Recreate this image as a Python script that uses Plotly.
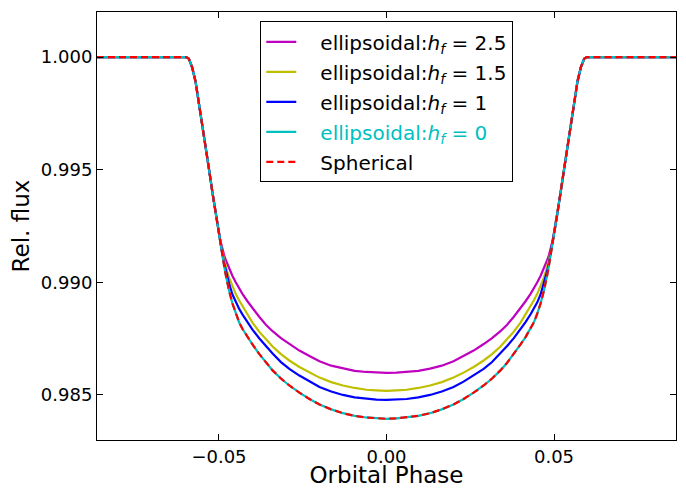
import plotly.graph_objects as go

# orbital phase grid (left half, center, right half)
phase_left = [-0.0864, -0.0598, -0.059, -0.058, -0.057, -0.056, -0.055, -0.054, -0.053, -0.052,
              -0.051, -0.050, -0.0495, -0.049, -0.0485, -0.048, -0.0475, -0.047, -0.046, -0.045,
              -0.044, -0.043, -0.0415, -0.040, -0.038, -0.036, -0.034, -0.0315, -0.029, -0.026,
              -0.023, -0.020, -0.0165, -0.013, -0.0095, -0.006, -0.003, 0.0]
phase_right = [0.003, 0.006, 0.0095, 0.013, 0.0165, 0.020, 0.023, 0.026, 0.029, 0.0315,
               0.034, 0.036, 0.038, 0.040, 0.0415, 0.043, 0.044, 0.045, 0.046, 0.047,
               0.0475, 0.048, 0.0485, 0.049, 0.0495, 0.050, 0.051, 0.052, 0.053, 0.054,
               0.055, 0.056, 0.057, 0.058, 0.059, 0.0598, 0.0864]

# shared ingress / egress flux (identical for all models)
ingress_flux = [1.0, 1.0, 0.99993, 0.99954, 0.99892, 0.99799, 0.99701, 0.99603, 0.99505, 0.99404, 0.99305]
egress_flux = [0.99305, 0.99404, 0.99505, 0.99603, 0.99701, 0.99799, 0.99892, 0.99954, 0.99993, 1.0, 1.0]

# in-transit flux, phase -0.050 ... 0.0 (left) and 0.003 ... 0.050 (right)
bottom_hf25_left = [0.99221, 0.99181, 0.99148, 0.99122, 0.99100, 0.99080, 0.99062, 0.99029, 0.99000, 0.98973,
                    0.98949, 0.98916, 0.98885, 0.98847, 0.98812, 0.98783, 0.98752, 0.98726, 0.98697, 0.98673,
                    0.98650, 0.98630, 0.98617, 0.98607, 0.98602, 0.98599, 0.98598]
bottom_hf25_right = [0.98599, 0.98602, 0.98607, 0.98617, 0.98630, 0.98650, 0.98673, 0.98697, 0.98726, 0.98752,
                     0.98783, 0.98812, 0.98847, 0.98885, 0.98916, 0.98949, 0.98973, 0.99000, 0.99029, 0.99062,
                     0.99080, 0.99100, 0.99122, 0.99148, 0.99181, 0.99221]

bottom_hf15_left = [0.99217, 0.99173, 0.99133, 0.99100, 0.99071, 0.99044, 0.99022, 0.98982, 0.98949, 0.98920,
                    0.98894, 0.98856, 0.98821, 0.98781, 0.98746, 0.98715, 0.98681, 0.98653, 0.98624, 0.98599,
                    0.98577, 0.98557, 0.98542, 0.98531, 0.98523, 0.98520, 0.98518]
bottom_hf15_right = [0.98520, 0.98523, 0.98531, 0.98542, 0.98557, 0.98577, 0.98599, 0.98624, 0.98653, 0.98681,
                     0.98715, 0.98746, 0.98781, 0.98821, 0.98856, 0.98894, 0.98920, 0.98949, 0.98982, 0.99022,
                     0.99044, 0.99071, 0.99100, 0.99133, 0.99173, 0.99217]

bottom_hf1_left = [0.99217, 0.99170, 0.99126, 0.99088, 0.99053, 0.99022, 0.98996, 0.98947, 0.98911, 0.98883,
                   0.98858, 0.98823, 0.98790, 0.98752, 0.98717, 0.98684, 0.98646, 0.98616, 0.98586, 0.98559,
                   0.98535, 0.98515, 0.98500, 0.98489, 0.98482, 0.98479, 0.98478]
bottom_hf1_right = [0.98479, 0.98482, 0.98489, 0.98500, 0.98515, 0.98535, 0.98559, 0.98586, 0.98616, 0.98646,
                    0.98684, 0.98717, 0.98752, 0.98790, 0.98823, 0.98858, 0.98883, 0.98911, 0.98947, 0.98996,
                    0.99022, 0.99053, 0.99088, 0.99126, 0.99170, 0.99217]

bottom_hf0_left = [0.99217, 0.99168, 0.99119, 0.99077, 0.99035, 0.98996, 0.98964, 0.98907, 0.98861, 0.98823,
                   0.98794, 0.98757, 0.98724, 0.98682, 0.98643, 0.98609, 0.98573, 0.98542, 0.98510, 0.98482,
                   0.98458, 0.98436, 0.98419, 0.98407, 0.98400, 0.98396, 0.98394]
bottom_hf0_right = [0.98396, 0.98400, 0.98407, 0.98419, 0.98436, 0.98458, 0.98482, 0.98510, 0.98542, 0.98573,
                    0.98609, 0.98643, 0.98682, 0.98724, 0.98757, 0.98794, 0.98823, 0.98861, 0.98907, 0.98964,
                    0.98996, 0.99035, 0.99077, 0.99119, 0.99168, 0.99217]

bottom_sph_left = [0.99217, 0.99168, 0.99119, 0.99077, 0.99035, 0.98996, 0.98964, 0.98907, 0.98861, 0.98823,
                   0.98794, 0.98757, 0.98724, 0.98682, 0.98643, 0.98609, 0.98573, 0.98542, 0.98510, 0.98482,
                   0.98458, 0.98436, 0.98419, 0.98407, 0.98400, 0.98396, 0.98394]
bottom_sph_right = [0.98396, 0.98400, 0.98407, 0.98419, 0.98436, 0.98458, 0.98482, 0.98510, 0.98542, 0.98573,
                    0.98609, 0.98643, 0.98682, 0.98724, 0.98757, 0.98794, 0.98823, 0.98861, 0.98907, 0.98964,
                    0.98996, 0.99035, 0.99077, 0.99119, 0.99168, 0.99217]

phase = phase_left + phase_right
flux_hf25 = ingress_flux + bottom_hf25_left + bottom_hf25_right + egress_flux
flux_hf15 = ingress_flux + bottom_hf15_left + bottom_hf15_right + egress_flux
flux_hf1 = ingress_flux + bottom_hf1_left + bottom_hf1_right + egress_flux
flux_hf0 = ingress_flux + bottom_hf0_left + bottom_hf0_right + egress_flux
flux_spherical = ingress_flux + bottom_sph_left + bottom_sph_right + egress_flux

pad = "\u00a0\u00a0\u00a0"
series_names = [
    pad + "ellipsoidal:<i>h</i><sub><i>f</i></sub> = 2.5",
    pad + "ellipsoidal:<i>h</i><sub><i>f</i></sub> = 1.5",
    pad + "ellipsoidal:<i>h</i><sub><i>f</i></sub> = 1",
    pad + "<span style='color:#00bfbf'>ellipsoidal:<i>h</i><sub><i>f</i></sub> = 0</span>",
    pad + "Spherical",
]
series_values = [flux_hf25, flux_hf15, flux_hf1, flux_hf0, flux_spherical]
series_colors = ["#bf00bf", "#bfbf00", "#0000ff", "#00bfbf", "#ff0000"]
series_dash = ["solid", "solid", "solid", "solid", "7px,4px"]

x_ticks = [-0.05, 0.0, 0.05]
y_ticks = [0.985, 0.990, 0.995, 1.000]

fig = go.Figure()
for i, (name, vals, col, dsh) in enumerate(zip(series_names, series_values, series_colors, series_dash)):
    fig.add_trace(go.Scatter(
        x=phase, y=vals, mode="lines", name=name, legendgroup=f"g{i}",
        line=dict(color=col, width=2.2, dash=dsh),
    ))

font_family = "DejaVu Sans"
axis_common = dict(
    showline=True, linecolor="black", linewidth=1, mirror="ticks",
    ticks="inside", ticklen=6, tickcolor="black", tickwidth=1,
    showgrid=False, zeroline=False, automargin=False,
    tickfont=dict(family=font_family, size=18, color="black"),
)

fig.update_layout(
    width=686, height=488,
    margin=dict(l=97, r=10, t=12, b=48),
    paper_bgcolor="white", plot_bgcolor="white",
    font=dict(family=font_family, color="black"),
    xaxis=dict(range=[-0.0864, 0.0864], tickvals=x_ticks, tickformat=".2f",
               title=dict(text="Orbital Phase", font=dict(size=23, family=font_family), standoff=7),
               **axis_common),
    yaxis=dict(range=[0.983, 1.002], tickvals=y_ticks, tickformat=".3f",
               title=dict(text="Rel. flux", font=dict(size=23, family=font_family), standoff=4),
               **axis_common),
    legend=dict(x=0.282, y=0.978, xanchor="left", yanchor="top",
                bordercolor="black", borderwidth=1, bgcolor="white",
                font=dict(size=20, family=font_family, color="black"),
                itemwidth=30, tracegroupgap=1),
    showlegend=True,
)

fig.write_html("out.html", config={"displayModeBar": False},
               post_script="document.body.style.margin='0';document.body.style.overflow='hidden';")
